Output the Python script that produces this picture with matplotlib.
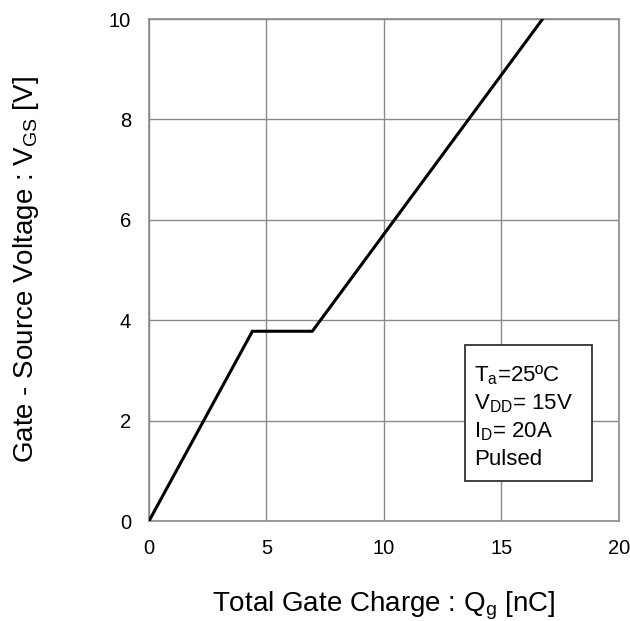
import matplotlib
matplotlib.use("Agg")
import matplotlib.pyplot as plt

#--------------- Style ---------------------
plt.rcParams['font.family'] = ['Liberation Sans', 'DejaVu Sans']
plt.rcParams['mathtext.fontset'] = 'custom'
plt.rcParams['mathtext.rm'] = 'Liberation Sans'
plt.rcParams['mathtext.default'] = 'regular'

# ---------------- Data ----------------
qg = [0.0, 4.4, 6.95, 16.75]        # total gate charge [nC]
vgs = [0.0, 3.78, 3.78, 10.0]       # gate-source voltage [V]
x_ticks = [0, 5, 10, 15, 20]
y_ticks = [0, 2, 4, 6, 8, 10]
cond_lines = [r"T$_{a}$=25ºC", r"V$_{DD}$= 15V", r"I$_{D}$= 20A", "Pulsed"]

fig = plt.figure(figsize=(6.30, 6.21), dpi=100)
ax = fig.add_axes([0.2365, 0.161, 0.746, 0.8084])

ax.plot(qg, vgs, color='black', linewidth=2.2, solid_joinstyle='miter', zorder=3)

ax.set_xlim(0, 20)
ax.set_ylim(0, 10)
ax.set_xticks(x_ticks)
ax.set_yticks(y_ticks)
ax.grid(True, color='#8a8a8a', linewidth=1.0)
ax.set_axisbelow(True)
for s in ax.spines.values():
    s.set_color('#8a8a8a')
    s.set_linewidth(1.2)
ax.tick_params(length=0, labelsize=14.5, pad=13)

ax.set_xlabel(r"Total Gate Charge : Q$_{g}$ [nC]", fontsize=20, labelpad=23)
ax.set_ylabel(r"Gate - Source Voltage : V$_{GS}$ [V]", fontsize=20, labelpad=49)

# conditions box
box = plt.Rectangle((13.45, 0.8), 5.42, 2.7, facecolor='white', edgecolor='#333333',
                    linewidth=1.3, zorder=4)
ax.add_patch(box)
y0 = 2.9
for i, t in enumerate(cond_lines):
    ax.text(13.85, y0 - i * 0.56, t, fontsize=16, va='center', ha='left', zorder=5)

fig.savefig("out.png", dpi=100)
